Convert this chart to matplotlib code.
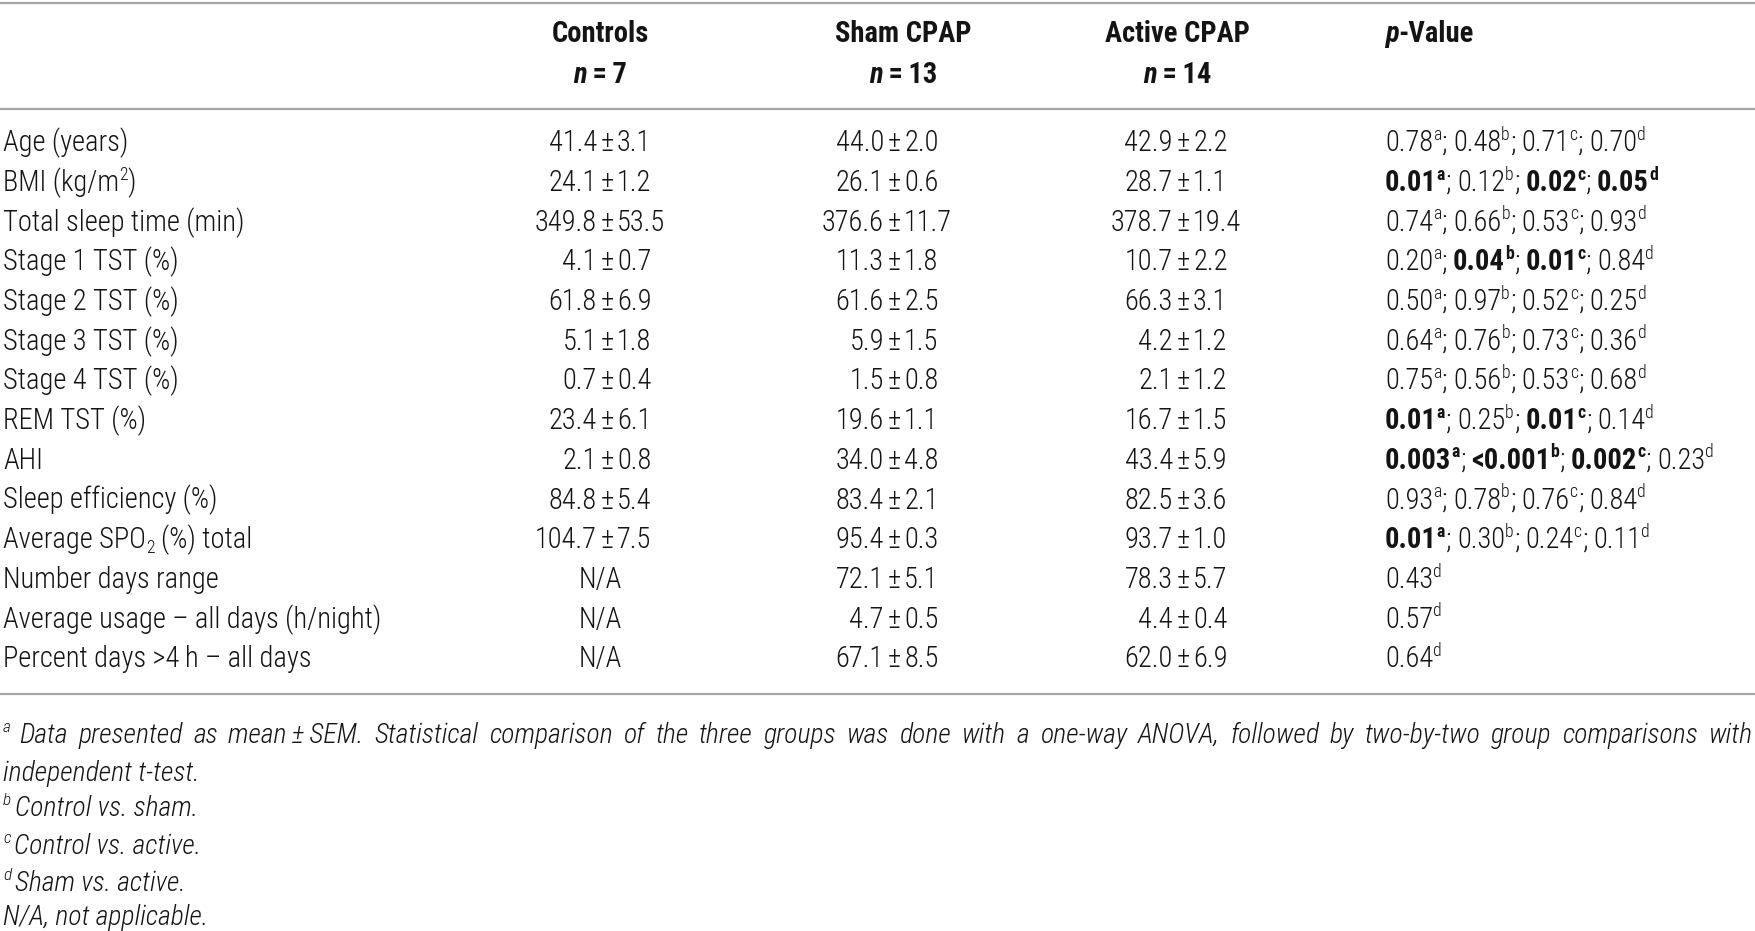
import matplotlib
matplotlib.use("Agg")
import matplotlib.pyplot as plt
from matplotlib import font_manager as fm

# ---------------- data ----------------
row_labels = ["Age (years)", "BMI (kg/m^2)", "Total sleep time (min)", "Stage 1 TST (%)",
              "Stage 2 TST (%)", "Stage 3 TST (%)", "Stage 4 TST (%)", "REM TST (%)", "AHI",
              "Sleep efficiency (%)", "Average SPO_2 (%) total", "Number days range",
              "Average usage \u2013 all days (h/night)", "Percent days >4\u2009h \u2013 all days"]
group_names = ["Controls", "Sham CPAP", "Active CPAP"]
group_n = ["7", "13", "14"]
ctrl_mean = [41.4, 24.1, 349.8, 4.1, 61.8, 5.1, 0.7, 23.4, 2.1, 84.8, 104.7, None, None, None]
ctrl_sem = [3.1, 1.2, 53.5, 0.7, 6.9, 1.8, 0.4, 6.1, 0.8, 5.4, 7.5, None, None, None]
sham_mean = [44.0, 26.1, 376.6, 11.3, 61.6, 5.9, 1.5, 19.6, 34.0, 83.4, 95.4, 72.1, 4.7, 67.1]
sham_sem = [2.0, 0.6, 11.7, 1.8, 2.5, 1.5, 0.8, 1.1, 4.8, 2.1, 0.3, 5.1, 0.5, 8.5]
act_mean = [42.9, 28.7, 378.7, 10.7, 66.3, 4.2, 2.1, 16.7, 43.4, 82.5, 93.7, 78.3, 4.4, 62.0]
act_sem = [2.2, 1.1, 19.4, 2.2, 3.1, 1.2, 1.2, 1.5, 5.9, 3.6, 1.0, 5.7, 0.4, 6.9]
# (value, superscript letter, bold)
p_values = [
    [("0.78", "a", 0), ("0.48", "b", 0), ("0.71", "c", 0), ("0.70", "d", 0)],
    [("0.01", "a", 1), ("0.12", "b", 0), ("0.02", "c", 1), ("0.05", "d", 1)],
    [("0.74", "a", 0), ("0.66", "b", 0), ("0.53", "c", 0), ("0.93", "d", 0)],
    [("0.20", "a", 0), ("0.04", "b", 1), ("0.01", "c", 1), ("0.84", "d", 0)],
    [("0.50", "a", 0), ("0.97", "b", 0), ("0.52", "c", 0), ("0.25", "d", 0)],
    [("0.64", "a", 0), ("0.76", "b", 0), ("0.73", "c", 0), ("0.36", "d", 0)],
    [("0.75", "a", 0), ("0.56", "b", 0), ("0.53", "c", 0), ("0.68", "d", 0)],
    [("0.01", "a", 1), ("0.25", "b", 0), ("0.01", "c", 1), ("0.14", "d", 0)],
    [("0.003", "a", 1), ("<0.001", "b", 1), ("0.002", "c", 1), ("0.23", "d", 0)],
    [("0.93", "a", 0), ("0.78", "b", 0), ("0.76", "c", 0), ("0.84", "d", 0)],
    [("0.01", "a", 1), ("0.30", "b", 0), ("0.24", "c", 0), ("0.11", "d", 0)],
    [("0.43", "d", 0)],
    [("0.57", "d", 0)],
    [("0.64", "d", 0)],
]
footnotes = [
    ("a", "Data presented as mean\u2009\u00b1\u2009SEM. Statistical comparison of the three groups was done with a one-way ANOVA, followed by two-by-two group comparisons with"),
    ("", "independent t-test."),
    ("b", "Control vs. sham."),
    ("c", "Control vs. active."),
    ("d", "Sham vs. active."),
    ("", "N/A, not applicable."),
]

# ---------------- setup ----------------
W, H = 1755, 931
names = {f.name for f in fm.fontManager.ttflist}
FONT = "DejaVu Sans"
for cand in ["Roboto Condensed", "Archivo Narrow", "PT Sans Narrow", "IBM Plex Sans Condensed",
             "Fira Sans Condensed", "Liberation Sans Narrow"]:
    if cand in names:
        FONT = cand
        break
LIGHT = 300
COL = "#141414"

fig = plt.figure(figsize=(W / 100, H / 100), dpi=100)
ax = fig.add_axes([0, 0, 1, 1])
ax.set_xlim(0, W)
ax.set_ylim(H, 0)
ax.axis("off")
fig.canvas.draw()
R = fig.canvas.get_renderer()


def put(x, y, s, size, bold=False, italic=False, ha="left"):
    return ax.text(x, y, s, fontsize=size, fontweight="bold" if bold else LIGHT,
                   fontstyle="italic" if italic else "normal", family=[FONT, "DejaVu Sans"],
                   ha=ha, va="baseline", color=COL)


def wid(t):
    return t.get_window_extent(renderer=R).width


def measure(s, size, bold=False, italic=False):
    t = put(0, 0, s, size, bold, italic)
    w = wid(t)
    t.remove()
    return w


def space_w(size, bold=False, italic=False):
    return measure("x x", size, bold, italic) - measure("xx", size, bold, italic)


# calibrate body size to reference label width
FS = 19 * 243.0 / measure("Total sleep time (min)", 19)
FFS = FS * 0.97
EM = FS * 100 / 72.0
CAP = 0.36 * EM


def draw_runs(x, y, runs, size=None, ha="left", justify_to=None):
    size = size or FS
    em = size * 100 / 72.0
    items = []
    for s, b, i, p in runs:
        fs = size * 0.62 if p else size
        lead = len(s) - len(s.lstrip(" "))
        trail = len(s) - len(s.rstrip(" "))
        core = s.strip(" ")
        sw = space_w(fs, b, i)
        t = put(0, 0, core, fs, b, i) if core else None
        w = wid(t) if t is not None else 0
        items.append([t, w, p, lead * sw, trail * sw])
    total = sum(it[1] + it[3] + it[4] for it in items)
    extra = 0
    if justify_to is not None:
        gaps = sum(1 for it in items if it[4] > 0)
        if gaps:
            extra = (justify_to - total) / gaps
        total = justify_to
    x0 = x - total / 2 if ha == "center" else (x - total if ha == "right" else x)
    for t, w, p, lw, tw in items:
        x0 += lw
        dy = -0.40 * em if p == "sup" else (0.16 * em if p == "sub" else 0)
        if t is not None:
            t.set_position((x0, y + dy))
        x0 += w + tw
        if tw > 0:
            x0 += extra
    return total


def parse_label(s):
    runs, buf, k = [], "", 0
    while k < len(s):
        ch = s[k]
        if ch in "^_" and k + 1 < len(s):
            if buf:
                runs.append((buf, False, False, ""))
                buf = ""
            runs.append((s[k + 1], False, False, "sup" if ch == "^" else "sub"))
            k += 2
            continue
        buf += ch
        k += 1
    if buf:
        runs.append((buf, False, False, ""))
    return runs


# ---------------- layout ----------------
LX = 3
col_centers = [600, 903, 1177]
pm_x = [607, 894, 1183]
PX = 1385
row_c0, row_dy = 141, 39.7
line_color = "#a6a6a6"

for yl in [2.5, 109, 694]:
    ax.plot([0, W], [yl, yl], color=line_color, lw=1.6, solid_capstyle="butt")

# header
for cx, name, n in zip(col_centers, group_names, group_n):
    draw_runs(cx, 32 + CAP, [(name, True, False, "")], ha="center")
    draw_runs(cx, 73 + CAP, [("n", True, True, ""), ("\u2009=\u2009" + n, True, False, "")], ha="center")
draw_runs(PX, 32 + CAP, [("p", True, True, ""), ("-Value", True, False, "")])

pm_w = measure("\u00b1", FS)
gap = 3.5
groups = [(ctrl_mean, ctrl_sem), (sham_mean, sham_sem), (act_mean, act_sem)]
for r, lab in enumerate(row_labels):
    yb = row_c0 + r * row_dy + CAP
    draw_runs(LX, yb, parse_label(lab))
    for g, (means, sems) in enumerate(groups):
        m, s = means[r], sems[r]
        if m is None:
            put(col_centers[g], yb, "N/A", FS, ha="center")
        else:
            put(pm_x[g] - pm_w / 2 - gap, yb, f"{m:.1f}", FS, ha="right")
            put(pm_x[g], yb, "\u00b1", FS, ha="center")
            put(pm_x[g] + pm_w / 2 + gap, yb, f"{s:.1f}", FS, ha="left")
    runs = []
    for k, (v, letter, bold) in enumerate(p_values[r]):
        runs.append((v, bool(bold), False, ""))
        runs.append((letter, bool(bold), False, "sup"))
        if k < len(p_values[r]) - 1:
            runs.append(("; ", False, False, ""))
    draw_runs(PX, yb, runs)

# footnotes (baselines)
foot_b = [743, 781, 816, 854, 891, 925]
for k, ((letter, text), yb) in enumerate(zip(footnotes, foot_b)):
    runs = []
    if letter:
        runs.append((letter + " ", False, True, "sup"))
    if k == 0:
        words = text.split(" ")
        for j, wd in enumerate(words):
            runs.append((wd + (" " if j < len(words) - 1 else ""), False, True, ""))
        draw_runs(LX, yb, runs, size=FFS, justify_to=W - LX - 2)
    else:
        runs.append((text, False, True, ""))
        draw_runs(LX, yb, runs, size=FFS)

fig.savefig("out.png", dpi=100, facecolor="white")
